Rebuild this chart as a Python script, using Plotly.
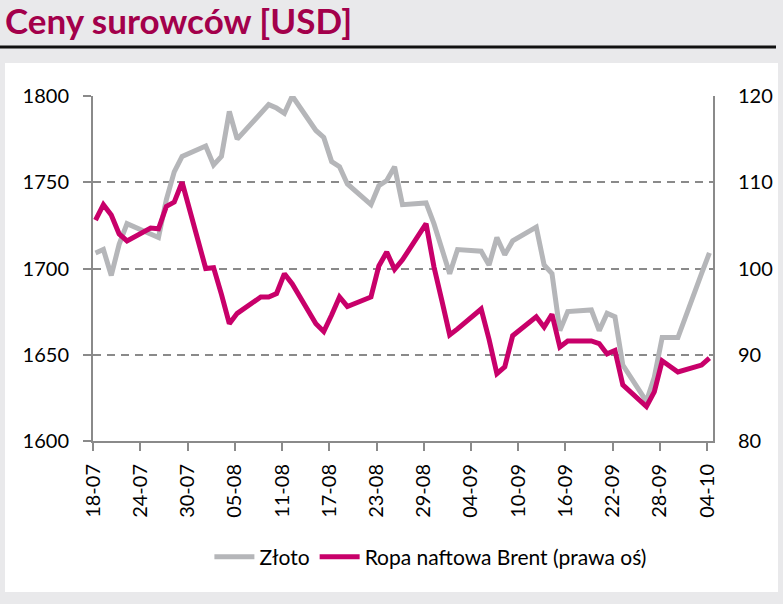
import pandas as pd
import plotly.graph_objects as go

# ---- data (2022 trading days) ----
dates = [
    "2022-07-18", "2022-07-19", "2022-07-20", "2022-07-21", "2022-07-22",
    "2022-07-25", "2022-07-26", "2022-07-27", "2022-07-28", "2022-07-29",
    "2022-08-01", "2022-08-02", "2022-08-03", "2022-08-04", "2022-08-05",
    "2022-08-08", "2022-08-09", "2022-08-10", "2022-08-11", "2022-08-12",
    "2022-08-15", "2022-08-16", "2022-08-17", "2022-08-18", "2022-08-19",
    "2022-08-22", "2022-08-23", "2022-08-24", "2022-08-25", "2022-08-26",
    "2022-08-29", "2022-08-30", "2022-08-31", "2022-09-01", "2022-09-02",
    "2022-09-05", "2022-09-06", "2022-09-07", "2022-09-08", "2022-09-09",
    "2022-09-12", "2022-09-13", "2022-09-14", "2022-09-15", "2022-09-16",
    "2022-09-19", "2022-09-20", "2022-09-21", "2022-09-22", "2022-09-23",
    "2022-09-26", "2022-09-27", "2022-09-28", "2022-09-29", "2022-09-30",
    "2022-10-03", "2022-10-04",
]

gold = [
    1709, 1711, 1696, 1714, 1726,
    1720, 1718, 1740, 1756, 1765,
    1771, 1760, 1765, 1791, 1775,
    1790, 1795, 1793, 1790, 1800,
    1780, 1776, 1762, 1759, 1749,
    1737, 1748, 1751, 1759, 1737,
    1738, 1726, 1712, 1697, 1711,
    1710, 1702, 1718, 1708, 1716,
    1724, 1702, 1697, 1664, 1675,
    1676, 1664, 1674, 1672, 1644,
    1623, 1637, 1660, 1660, 1660,
    1697, 1709,
]

brent = [
    105.6, 107.4, 106.2, 104.0, 103.2,
    104.7, 104.6, 107.2, 107.7, 110.0,
    100.0, 100.1, 97.0, 93.6, 94.8,
    96.7, 96.7, 97.1, 99.4, 98.2,
    93.6, 92.7, 94.6, 96.7, 95.6,
    96.7, 100.3, 101.9, 99.9, 101.0,
    105.2, 100.2, 96.3, 92.3, 93.0,
    95.3, 91.8, 87.8, 88.6, 92.2,
    94.4, 93.2, 94.7, 90.9, 91.6,
    91.6, 91.3, 90.1, 90.5, 86.5,
    84.0, 85.7, 89.3, 88.6, 88.0,
    88.8, 89.6,
]

tick_dates = [
    "2022-07-18", "2022-07-24", "2022-07-30", "2022-08-05", "2022-08-11",
    "2022-08-17", "2022-08-23", "2022-08-29", "2022-09-04", "2022-09-10",
    "2022-09-16", "2022-09-22", "2022-09-28", "2022-10-04",
]
tick_labels = ["18-07", "24-07", "30-07", "05-08", "11-08", "17-08", "23-08",
               "29-08", "04-09", "10-09", "16-09", "22-09", "28-09", "04-10"]

left_ticks = [1600, 1650, 1700, 1750, 1800]
right_ticks = [80, 90, 100, 110, 120]

title_text = "Ceny surowców [USD]"
name_gold = "Złoto"
name_brent = "Ropa naftowa Brent (prawa oś)"

# ---- styling ----
GRAY_LINE = "#b5b6b9"
PINK = "#c8006a"
AXIS = "#8a8a8a"
TITLE_COL = "#a3004b"
FONT = "Lato, 'Noto Sans', sans-serif"

W, H = 783, 604
L, R, T, B = 93, 713, 96, 441  # plot area in pixels


def px(xp):
    return (xp - L) / (R - L)


def py(yp):
    return (B - yp) / (B - T)


tickvals = [pd.Timestamp(d) - pd.Timedelta(hours=7) for d in tick_dates]
x_start = pd.Timestamp(dates[0]) - pd.Timedelta(hours=7.7)
x_end = pd.Timestamp(dates[-1]) + pd.Timedelta(hours=11)

fig = go.Figure()
fig.add_trace(go.Scatter(
    x=pd.to_datetime(dates), y=gold, name=name_gold, mode="lines",
    line=dict(color=GRAY_LINE, width=5), yaxis="y",
))
fig.add_trace(go.Scatter(
    x=pd.to_datetime(dates), y=brent, name=name_brent, mode="lines",
    line=dict(color=PINK, width=5), yaxis="y2",
))

fig.update_layout(
    width=W, height=H,
    margin=dict(l=L, r=W - R, t=T, b=H - B, pad=0, autoexpand=False),
    paper_bgcolor="#e9e9eb",
    plot_bgcolor="rgba(0,0,0,0)",
    font=dict(family=FONT, size=18, color="#000000"),
    showlegend=True,
    legend=dict(
        orientation="h", x=0.545, xanchor="center", y=py(557), yanchor="middle",
        font=dict(family=FONT, size=21, color="#000000"),
        bgcolor="rgba(0,0,0,0)", itemwidth=40, tracegroupgap=0,
    ),
    xaxis=dict(
        type="date", range=[x_start, x_end], automargin=False,
        tickmode="array", tickvals=tickvals, ticktext=tick_labels,
        tickangle=-90, ticks="outside", ticklen=8, tickwidth=2, tickcolor=AXIS,
        ticklabelstandoff=5,
        showline=True, linecolor=AXIS, linewidth=2, showgrid=False, zeroline=False,
        tickfont=dict(family=FONT, size=20),
    ),
    yaxis=dict(
        range=[1600, 1800], tickmode="array", tickvals=left_ticks, automargin=False,
        ticks="outside", ticklen=8, tickwidth=2, tickcolor=AXIS,
        ticklabelstandoff=10,
        showline=True, linecolor=AXIS, linewidth=2,
        showgrid=True, gridcolor=AXIS, gridwidth=2, griddash="8px,6px",
        zeroline=False, tickfont=dict(family=FONT, size=20),
    ),
    yaxis2=dict(
        range=[80, 120], tickmode="array", tickvals=right_ticks, automargin=False,
        overlaying="y", side="right", ticks="", ticklabelstandoff=19,
        showline=True, linecolor=AXIS, linewidth=2, showgrid=False,
        zeroline=False, tickfont=dict(family=FONT, size=20),
    ),
    shapes=[
        dict(type="rect", xref="paper", yref="paper", layer="below",
             x0=px(5), x1=px(778), y0=py(592), y1=py(63),
             fillcolor="#ffffff", line=dict(width=0)),
        dict(type="line", xref="paper", yref="paper",
             x0=px(0), x1=px(776), y0=py(47), y1=py(47),
             line=dict(color="#111111", width=3)),
    ],
    annotations=[
        dict(text="<b>" + title_text + "</b>", xref="paper", yref="paper",
             x=px(3), y=py(20), xanchor="left", yanchor="middle", showarrow=False,
             font=dict(family=FONT, size=35, color=TITLE_COL)),
    ],
)

fig.write_html("out.html")
